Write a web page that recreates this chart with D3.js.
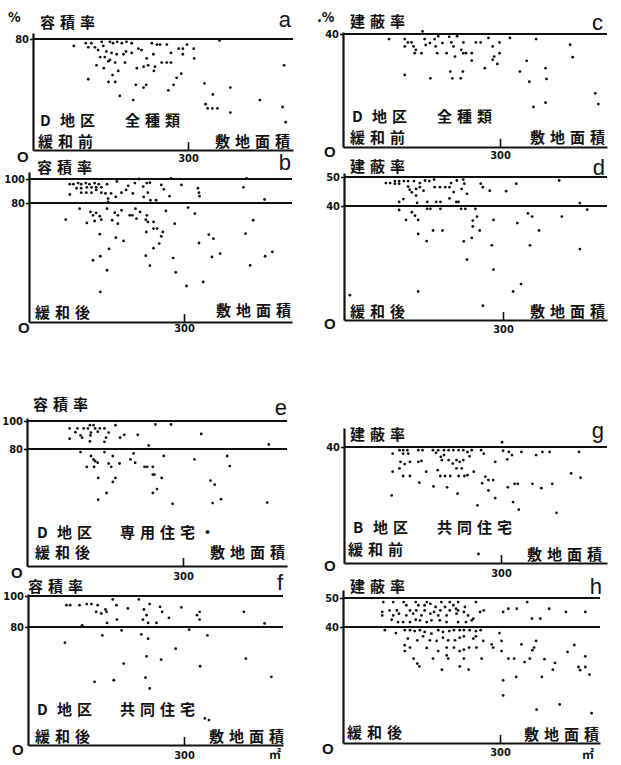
<!DOCTYPE html>
<html>
<head>
<meta charset="utf-8">
<script src="https://cdn.jsdelivr.net/npm/d3@7/dist/d3.min.js"></script>
<style>
  html, body { margin: 0; padding: 0; background: #fff; }
  svg { display: block; }
  .cj { font-family: "Noto Sans CJK JP", sans-serif; font-weight: 700; font-size: 15px; fill: #111; letter-spacing: 5px; }
  .num { font-family: "DejaVu Sans Condensed", "DejaVu Sans", sans-serif; font-weight: 700; font-size: 11px; fill: #111; }
  .let { font-family: "Liberation Sans", Arial, sans-serif; font-size: 22px; fill: #111; }
  .zero { font-family: "Liberation Sans", Arial, sans-serif; font-weight: 700; font-size: 15px; fill: #111; }
  .unit { font-family: "Noto Sans CJK JP", sans-serif; font-weight: 700; font-size: 12px; fill: #111; }
</style>
</head>
<body>
<svg id="fig" width="621" height="765"></svg>
<script>
// [敷地面積 m2, ratio %]
var panelA = [[79,75],[102,77],[107,74],[113,77],[120,74],[126,72],[133,78],[136,75],[149,78],[155,77],[163,78],[172,77],[181,78],[191,77],[142,71],[152,70],[149,65],[162,69],[175,69],[180,71],[191,70],[204,73],[210,72],[220,66],[223,61],[230,77],[233,69],[240,76],[246,76],[259,76],[130,67],[139,67],[146,64],[159,63],[178,63],[123,61],[137,59],[165,57],[201,59],[214,60],[236,60],[234,57],[249,63],[259,63],[267,63],[267,70],[282,73],[290,73],[290,69],[298,76],[311,73],[312,66],[107,51],[146,49],[159,49],[154,54],[199,47],[214,45],[219,47],[262,43],[272,47],[278,52],[287,55],[168,39],[194,36],[332,48],[348,40],[382,45],[382,27],[439,36],[334,33],[338,30],[347,30],[357,30],[483,31],[486,61],[489,20],[361,79]];

var panelB = [[79,95.7],[86,95.7],[95,96.6],[101,95.7],[110,96.6],[117,95.7],[127,96.6],[135,95.7],[151,95.7],[92,92.3],[101,92.3],[112,93.1],[121,93.1],[130,93.1],[140,93.1],[101,88.6],[111,88.6],[121,88.6],[130,90.9],[140,88.6],[148,88],[79,87.1],[153,83.7],[153,80.9],[159,88],[170,98],[168,85.1],[179,88.6],[188,90.9],[192,94.3],[201,88],[205,96.6],[213,100],[221,93.7],[228,96.6],[230,88.6],[222,85.1],[234,96.9],[235,82.3],[246,82.3],[256,95.1],[261,91.4],[272,85.7],[275,100.5],[295,95.1],[327,92.3],[329,88.6],[330,85.7],[415,93.1],[421,100.5],[456,82.9],
  [71,68.8],[98,76.2],[119,74],[124,71.7],[130,73.3],[137,71.1],[140,68.8],[127,67.9],[112,66.6],[151,76.2],[161,68.4],[166,73.5],[172,66.1],[172,71.7],[179,75.1],[195,71.7],[200,71.7],[206,76.2],[208,69.5],[215,74],[226,68.8],[228,71.7],[230,67.3],[227,60.5],[241,67.3],[241,62.8],[248,62.8],[259,60.5],[256,57.6],[265,74.7],[282,66.1],[308,76.9],[321,72.9],[329,53.1],[348,58.7],[357,56],[419,59.4],[434,68.4],[137,59],[168,56.7],[183,54.5],[155,49.1],[252,52.7],[241,49.6],[138,44.2],[124,41.5],[151,34.8],[226,44.6],[234,37.9],[279,43],[284,33.4],[305,24.2],[337,26.9],[354,43.7],[370,46],[428,38.1],[457,44.2],[471,47.1],[138,20.2]];

var panelC = [[88,38.2],[118,38.2],[124,37],[131,37],[118,35.6],[135,35.6],[139,34.4],[137,33.2],[150,33.2],[152,41.3],[156,38.2],[158,36.1],[166,36.8],[175,38.2],[182,39.2],[177,35.6],[180,33.2],[190,36.8],[198,33.2],[203,39],[207,37],[211,35.6],[214,32],[218,39.2],[226,34.4],[230,37],[230,33.2],[235,33.2],[246,33.2],[246,30.6],[254,37],[263,37],[271,27.9],[278,38.6],[286,35.6],[286,30.9],[289,32],[295,29.4],[299,37],[299,33.2],[319,38.6],[118,25.5],[167,24.3],[205,26.7],[209,24.3],[225,24.3],[229,26.7],[338,26.7],[351,30.5],[356,23.1],[364,14.2],[369,38.2],[387,27.9],[389,24.1],[387,15.7],[434,36.2],[439,31.8],[482,19],[488,15.2]];

var panelD = [[79,47.9],[87,47.9],[96,48.6],[104,48.6],[113,48.6],[121,48.6],[132,48.6],[143,47.9],[153,48.8],[161,48.6],[170,49.1],[96,47.7],[104,47.7],[121,46.7],[124,45.6],[128,44.7],[136,45.9],[143,46.5],[150,45.3],[136,43.6],[171,46.5],[181,46.5],[191,46.5],[199,46.5],[202,47.9],[207,44.8],[199,42.6],[213,48.8],[216,41.4],[222,45.9],[225,49.1],[227,47.7],[232,44.2],[258,47.7],[262,46.5],[275,45.3],[306,45.1],[325,47.7],[406,48.8],
  [104,41.4],[104,38.6],[112,42.4],[138,41.1],[157,41.4],[157,39],[163,39],[174,41.4],[182,41.4],[182,39],[212,41.4],[221,39],[229,39],[248,39],[445,41],[459,38.7],
  [128,37.8],[134,36.6],[117,35.1],[140,35.1],[140,30.2],[156,27.7],[168,31.4],[186,31.4],[232,21.2],[226,27.6],[243,34.9],[251,36.3],[243,32.8],[241,28.8],[256,31.4],[279,26.2],[282,35.1],[282,17.7],[262,5],[319,10],[334,12.6],[327,34],[347,37.4],[355,36.3],[351,26.2],[368,31.4],[411,36.3],[445,24.9],[140,10],[11,8.7]];

var panelE = [[82,94.7],[82,87.4],[93,92],[97,94.7],[103,89.7],[106,88.1],[109,94.7],[117,94.7],[121,97],[122,89.7],[123,91.7],[128,97],[131,94.7],[136,92.4],[140,94.7],[121,85.5],[149,94.7],[152,88.1],[149,85.1],[157,91.7],[170,97],[179,88.1],[187,90.1],[213,90.1],[234,82.5],[247,97.5],[277,97.5],[335,90.8],[465,83.2],
  [103,77.9],[123,75.2],[128,72.9],[136,70.6],[131,71.7],[115,67.8],[129,67.8],[149,77.9],[165,75.2],[157,70.1],[162,67.8],[178,70.1],[199,72.9],[205,77],[208,70.6],[226,67.8],[231,67.8],[242,67.8],[242,62.5],[245,62.5],[263,75.2],[259,60.2],[322,72.9],[385,75.2],[390,68.3],[137,60.2],[170,60.2],[165,57.5],[153,49.9],[137,45.3],[250,52.6],[242,49.9],[280,42.5],[353,58.4],[361,55.6],[357,43],[373,45.7],[462,43.4]];

var panelF = [[71,69.4],[74,94.1],[81,94.1],[99,94.1],[104,81.1],[113,94.8],[122,94.8],[131,89.8],[134,94.1],[141,88.7],[143,74.3],[149,91.3],[151,89.8],[152,82.6],[163,97.8],[170,94.1],[171,84.8],[165,43.9],[180,77.7],[184,55.2],[192,92],[213,97.8],[218,75],[221,84.8],[223,91.3],[228,87.6],[231,82.6],[234,94.8],[231,72.1],[228,60.1],[226,45.7],[234,38.3],[247,82.6],[254,93],[258,89.8],[256,57.9],[271,85.9],[284,65.3],[295,92.6],[310,78.2],[325,87.6],[330,89.8],[330,84.8],[331,53.4],[345,74.3],[340,18],[348,16.9],[415,89.8],[419,58.6],[455,82.3],[468,46.2],[128,42.8]];

var panelG = [[93,37.7],[106,38.9],[113,38.9],[121,38.9],[113,37.7],[123,37.7],[142,38.9],[150,38.9],[170,38.9],[176,38],[180,38.9],[185,36.6],[191,38.9],[191,37.2],[200,38.9],[209,38.9],[219,38.9],[228,38.9],[236,38.3],[244,38.9],[262,38.9],[267,37.7],[302,42],[304,38.7],[315,38.3],[321,37.2],[339,38.3],[367,37.2],[379,38.3],[393,38.3],[449,38.3],
  [108,34.9],[116,34.1],[126,34.9],[142,34.9],[148,35.2],[187,35.5],[200,35.5],[208,34.3],[215,35.5],[221,34.9],[228,35.5],[240,36.8],[289,34.9],[312,35.7],
  [106,32.6],[93,31.5],[113,30],[126,30],[157,31.5],[179,32],[184,30],[193,30],[203,30],[215,32.6],[219,30],[225,32.6],[230,30],[236,30.3],[248,31.5],[270,29.8],[276,28.6],[285,28.6],[264,27.5],[313,26.1],[326,27.3],[332,27.3],[360,27.3],[377,25.8],[398,27.3],[434,30.9],[452,29.4],
  [144,27.7],[171,26.4],[197,26.1],[217,23.9],[276,25],[289,22.4],[255,19.9],[323,21],[334,18.4],[406,17.3],[91,23.3],[257,3.1]];

var panelH = [[77,48.6],[96,48.6],[116,48.6],[139,48.6],[160,48.6],[188,48.6],[204,48.6],[220,48.6],[254,48.6],[352,48.6],
  [121,47.5],[144,47.5],[156,47.5],[167,48],[177,46.9],[195,46.9],[211,47.5],[233,46.9],[216,46.3],
  [75,45.2],[89,45.7],[103,45.7],[128,45.7],[140,45.7],[156,45.7],[174,45.2],[186,45.7],[204,45.7],[220,45.7],[231,45.2],[262,45.2],[269,45.7],[306,45.2],[316,46.3],[332,46.3],[394,46.3],[426,45.2],[463,45.2],
  [75,44],[96,44],[107,44.6],[121,44],[134,44.6],[150,44],[167,44.6],[182,44],[198,44],[217,44.6],[239,44],[249,42.9],
  [93,42.5],[105,41.7],[115,41.7],[128,41.7],[139,42.5],[147,42.3],[160,41.7],[169,42.3],[185,42.3],[198,41.7],[220,41.7],[235,41.7],[246,42.3],[361,42.9],[377,42.9],
  [80,38.9],[101,37.9],[118,38.9],[128,38.9],[137,38.6],[147,38.9],[156,38.3],[169,37.7],[182,38.9],[191,38.3],[203,38.6],[212,38.9],[223,38.9],[231,38.9],[242,38.9],[254,38.6],[263,38.9],[299,37.9],
  [124,36],[142,35.4],[153,36.8],[166,35.4],[179,35.2],[191,36.3],[201,35.4],[214,35.4],[223,36.3],[231,36.8],[249,36],[254,36.8],[268,35.2],[284,34],[303,35.2],[341,34],[369,35.2],
  [118,33.7],[128,32.9],[118,31.7],[160,32.8],[182,31.7],[198,32.9],[212,32.9],[223,31.7],[231,32.2],[241,32.9],[255,32.9],[287,32.9],[303,31.7],[362,32],[365,32.9],[429,31.4],[442,33.8],
  [135,29.1],[142,27.4],[146,26.4],[172,29.1],[201,29.1],[198,30.2],[231,29.1],[265,29.1],[316,29.1],[327,29.1],[347,27.9],[357,29.1],[385,28.9],[405,27.6],[401,25.3],[450,26.2],[453,25.1],[463,29.9],[463,26.2],[471,23.6],[223,26.4],[240,25.3],[189,25.3],
  [306,21.6],[306,16.4],[331,22.8],[380,22.8],[370,11.5],[414,13.3],[475,10.3]];

var xTickValues = [300];
var titleYoseki = '容積率';
var titleKenpei = '建蔽率';
var siteLabel = '敷地面積';

// layout of the eight panels (pixels)
var panels = [
  {key:'a', data:panelA, refs:[80], yDom:[0,80,84], yRng:[150,39,33], x0:33, x300:188, xEnd:293, pad:4,
   title:[titleYoseki,40,28], letter:[291,27], pct:['%',8,22], zero:[17,162], dist:['D','地区',40,'全種類',125,126], cond:['緩和前',38,147], site:[290,147]},
  {key:'b', data:panelB, refs:[80,100], yDom:[0,80,100,105], yRng:[322,203,179,172], x0:29, x300:184, xEnd:292, pad:2,
   title:[titleYoseki,37,173], letter:[291,170], zero:[18,333], cond:['緩和後',35,318], site:[291,316]},
  {key:'c', data:panelC, refs:[40], yDom:[0,40,41], yRng:[147,34,32], x0:343, x300:500, xEnd:607, pad:4,
   title:[titleKenpei,350,27], letter:[603,30], pct:['.%',317,22], zero:[324,157], dist:['D','地区',352,'全種類',437,122], cond:['緩和前',350,143], site:[605,143]},
  {key:'d', data:panelD, refs:[40,50], yDom:[0,40,50,51], yRng:[320,206,177,173], x0:344, x300:503, xEnd:607, pad:5,
   title:[titleKenpei,350,172], letter:[605,175], zero:[324,329], cond:['緩和後',350,317], site:[605,317]},
  {key:'e', data:panelE, refs:[80,100], yDom:[0,80,100,101], yRng:[566,449,421,418], x0:27, x300:183, xEnd:287, pad:6,
   title:[titleYoseki,33,410], letter:[287,415], zero:[11,578], dist:['D','地区',37,'専用住宅・',120,538], cond:['緩和後',35,558], site:[285,558]},
  {key:'f', data:panelF, refs:[80,100], yDom:[0,80,100,101], yRng:[745,627,596,594], x0:28, x300:184, xEnd:283, pad:6,
   title:[titleYoseki,28,592], letter:[283,590], zero:[12,755], dist:['D','地区',37,'共同住宅',120,715], cond:['緩和後',35,742], site:[284,742], unit:[269,759]},
  {key:'g', data:panelG, refs:[40], yDom:[0,40,48], yRng:[563,447,428], x0:344, x300:501, xEnd:607, pad:6,
   title:[titleKenpei,350,440], letter:[604,438], zero:[324,571], dist:['B','地区',353,'共同住宅',437,533], cond:['緩和前',348,555], site:[602,560]},
  {key:'h', data:panelH, refs:[40,50], yDom:[0,40,50,52], yRng:[743,627,598,590], x0:343, x300:500, xEnd:600, pad:5,
   title:[titleKenpei,350,592], letter:[602,594], zero:[322,754], cond:['緩和後',347,738], site:[599,740], unit:[582,759]}
];

var svg = d3.select('#fig');

panels.forEach(function(p) {
  var g = svg.append('g').attr('class', 'panel-' + p.key);

  var x = d3.scaleLinear().domain([0, 300]).range([p.x0, p.x300]);
  x.domain([0, x.invert(p.xEnd)]).range([p.x0, p.xEnd]);
  var y = d3.scaleLinear().domain(p.yDom).range(p.yRng);

  // reference lines
  g.selectAll('line.ref').data(p.refs).enter().append('line')
    .attr('class', 'ref')
    .attr('x1', p.x0).attr('x2', p.xEnd)
    .attr('y1', function(d){ return y(d); }).attr('y2', function(d){ return y(d); })
    .attr('stroke', '#111').attr('stroke-width', 1.8);

  // x axis
  var xa = g.append('g').attr('transform', 'translate(0,' + y(0) + ')')
    .call(d3.axisBottom(x).tickValues(xTickValues).tickSizeInner(-8).tickSizeOuter(0).tickPadding(p.pad));
  xa.select('.domain').attr('stroke', '#111').attr('stroke-width', 2.2);
  xa.selectAll('.tick line').attr('stroke', '#111').attr('stroke-width', 1.6);
  xa.selectAll('.tick text').attr('class', 'num').attr('font-family', null).attr('font-size', null);

  // y axis
  var ya = g.append('g').attr('transform', 'translate(' + p.x0 + ',0)')
    .call(d3.axisLeft(y).tickValues(p.refs).tickSizeInner(3).tickSizeOuter(0).tickPadding(1));
  ya.select('.domain').attr('stroke', '#111').attr('stroke-width', 2.2);
  ya.selectAll('.tick line').attr('stroke', '#111').attr('stroke-width', 1.6);
  ya.selectAll('.tick text').attr('class', 'num').attr('font-family', null).attr('font-size', null);

  // points
  g.selectAll('circle').data(p.data).enter().append('circle')
    .attr('cx', function(d){ return x(d[0]); })
    .attr('cy', function(d){ return y(d[1]); })
    .attr('r', 1.4).attr('fill', '#111');

  // texts
  g.append('text').attr('class', 'cj').attr('x', p.title[1]).attr('y', p.title[2]).text(p.title[0]);
  g.append('text').attr('class', 'let').attr('text-anchor', 'end').attr('x', p.letter[0]).attr('y', p.letter[1]).text(p.key);
  g.append('text').attr('class', 'zero').attr('x', p.zero[0]).attr('y', p.zero[1]).text('O');
  if (p.pct) g.append('text').attr('class', 'num').style('font-size', '14px').attr('x', p.pct[1]).attr('y', p.pct[2]).text(p.pct[0]);
  if (p.dist) {
    g.append('text').attr('class', 'cj').attr('x', p.dist[2]).attr('y', p.dist[5]).text(p.dist[0]);
    g.append('text').attr('class', 'cj').attr('x', p.dist[2] + 20).attr('y', p.dist[5]).text(p.dist[1]);
    g.append('text').attr('class', 'cj').attr('x', p.dist[4]).attr('y', p.dist[5]).text(p.dist[3]);
  }
  g.append('text').attr('class', 'cj').attr('x', p.cond[1]).attr('y', p.cond[2]).text(p.cond[0]);
  g.append('text').attr('class', 'cj').attr('text-anchor', 'end').attr('x', p.site[0] + 5).attr('y', p.site[1]).text(siteLabel);
  if (p.unit) g.append('text').attr('class', 'unit').attr('x', p.unit[0]).attr('y', p.unit[1]).text('㎡');
});
</script>
</body>
</html>
